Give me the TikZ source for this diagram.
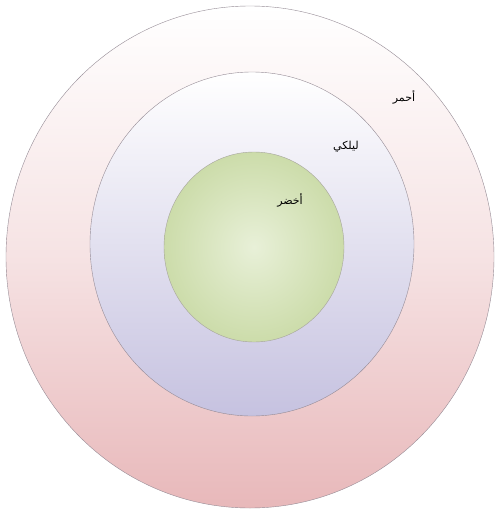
\documentclass[tikz,border=0pt]{standalone}
\usepackage{fontspec}
\usepackage{xcolor}
\usepackage{tikz}
\usetikzlibrary{positioning}
\TeXXeTstate=1
\newfontfamily\arabicfont[Script=Arabic]{DejaVu Sans}
\definecolor{ringred}{RGB}{232,184,186}
\definecolor{ringlilac}{RGB}{198,194,224}
\definecolor{ballgreen}{RGB}{204,220,170}
\definecolor{ballpale}{RGB}{232,240,216}
\definecolor{rimgray}{RGB}{150,140,150}
\tikzset{
  ringlabel/.style={font=\arabicfont\fontsize{11}{13}\selectfont, inner sep=1pt}
}

\begin{document}
\begin{tikzpicture}[x=1pt, y=-1pt]
\useasboundingbox (0,0) rectangle (497,522);
\fill[white] (0,0) rectangle (497,522);
% outer ring
\shade[top color=white, bottom color=ringred, middle color=ringred!40]
  (250,257) ellipse [x radius=244, y radius=251];
\draw[rimgray, thin] (250,257) ellipse [x radius=244, y radius=251];
% middle ring
\shade[top color=white, bottom color=ringlilac, middle color=ringlilac!50]
  (252,244) ellipse [x radius=162, y radius=172];
\draw[rimgray, thin] (252,244) ellipse [x radius=162, y radius=172];
% inner ball
\shade[inner color=ballpale, outer color=ballgreen]
  (254,247) ellipse [x radius=90, y radius=95];
\draw[rimgray!70!ballgreen, thin] (254,247) ellipse [x radius=90, y radius=95];
% labels
\node[ringlabel] (lblRed) at (404,97) {\beginR أحمر\endR};
\node[ringlabel] (lblLilac) at (346,147) {\beginR ليلكي\endR};
\node[ringlabel] (lblGreen) at (290,200) {\beginR أخضر\endR};
\end{tikzpicture}
\end{document}
